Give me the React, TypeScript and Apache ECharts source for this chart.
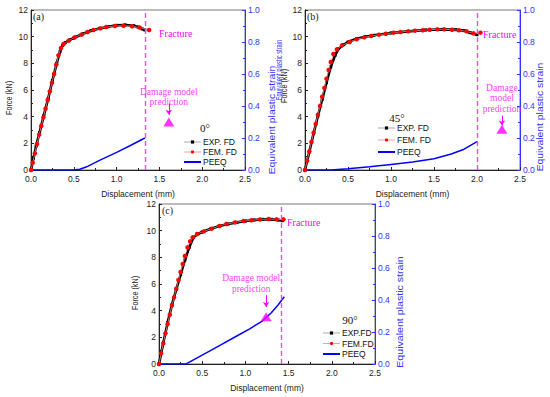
import React, { useEffect, useRef } from "react";
import * as echarts from "echarts";

// ---------- data ----------
const X_MIN = 0, X_MAX = 2.5, X_STEP = 0.5;
const F_MIN = 0, F_MAX = 12, F_STEP = 2;
const E_MIN = 0, E_MAX = 1, E_STEP = 0.2;

const EXP_A = [[0,0],[0.03,0.9],[0.06,1.8],[0.1,2.8],[0.15,4.1],[0.2,5.35],[0.25,6.7],[0.3,8.0],[0.34,8.9],[0.37,9.35],[0.4,9.55],[0.45,9.75],[0.5,9.9],[0.6,10.2],[0.7,10.45],[0.8,10.62],[0.9,10.75],[1.0,10.85],[1.1,10.88],[1.2,10.82],[1.25,10.72],[1.3,10.58],[1.33,10.5]];
const FEM_A = [[0,0],[0.02,0.55],[0.045,1.25],[0.07,1.95],[0.095,2.65],[0.12,3.3],[0.145,3.95],[0.17,4.6],[0.195,5.25],[0.22,5.9],[0.245,6.55],[0.27,7.2],[0.295,7.9],[0.32,8.6],[0.35,9.15],[0.38,9.45],[0.44,9.7],[0.51,9.95],[0.59,10.15],[0.66,10.35],[0.73,10.5],[0.81,10.62],[0.88,10.72],[0.98,10.8],[1.08,10.82],[1.18,10.78],[1.27,10.68],[1.38,10.5]];
const PEEQ_A = [[0,0],[0.5,0],[0.57,0.005],[0.65,0.02],[0.8,0.06],[1.0,0.11],[1.15,0.15],[1.33,0.2]];

const EXP_B = [[0,0],[0.05,1.35],[0.1,2.75],[0.15,4.05],[0.2,5.3],[0.25,6.55],[0.3,7.75],[0.35,8.6],[0.39,9.1],[0.45,9.4],[0.5,9.6],[0.6,9.85],[0.7,10.0],[0.8,10.1],[1.0,10.28],[1.2,10.4],[1.4,10.5],[1.6,10.55],[1.75,10.52],[1.85,10.45],[1.92,10.3],[2.0,10.15]];
const FEM_B = [[0,0],[0.025,0.7],[0.05,1.4],[0.075,2.1],[0.1,2.8],[0.125,3.45],[0.15,4.15],[0.175,4.8],[0.2,5.5],[0.225,6.15],[0.25,6.85],[0.275,7.5],[0.3,8.1],[0.33,8.7],[0.37,9.05],[0.43,9.35],[0.52,9.6],[0.6,9.8],[0.69,9.95],[0.77,10.05],[0.86,10.15],[0.94,10.22],[1.03,10.3],[1.11,10.35],[1.2,10.4],[1.28,10.45],[1.37,10.48],[1.45,10.52],[1.54,10.55],[1.62,10.55],[1.71,10.52],[1.79,10.48],[1.88,10.4],[1.96,10.25],[2.04,10.3]];
const PEEQ_B = [[0,0],[0.3,0],[0.5,0.008],[0.75,0.02],[1.0,0.035],[1.25,0.05],[1.5,0.07],[1.7,0.1],[1.85,0.13],[2.0,0.177]];

const EXP_C = [[0,0],[0.05,1.6],[0.1,3.1],[0.15,4.45],[0.2,5.6],[0.25,6.7],[0.3,7.8],[0.35,8.75],[0.4,9.5],[0.45,9.75],[0.5,9.9],[0.6,10.15],[0.7,10.35],[0.8,10.5],[0.9,10.62],[1.0,10.72],[1.1,10.8],[1.2,10.85],[1.3,10.85],[1.38,10.8],[1.43,10.75]];
const FEM_C = [[0,0],[0.025,0.8],[0.05,1.55],[0.075,2.3],[0.1,3.0],[0.125,3.7],[0.15,4.4],[0.175,5.0],[0.2,5.65],[0.225,6.3],[0.25,6.9],[0.275,7.5],[0.3,8.1],[0.33,8.75],[0.36,9.2],[0.39,9.5],[0.44,9.75],[0.52,9.95],[0.61,10.15],[0.7,10.35],[0.78,10.5],[0.88,10.62],[0.98,10.72],[1.07,10.78],[1.17,10.84],[1.27,10.87],[1.36,10.85],[1.44,10.85]];
const PEEQ_C = [[0,0],[0.3,0],[0.32,0.002],[0.5,0.055],[0.7,0.115],[0.9,0.175],[1.05,0.22],[1.2,0.27],[1.3,0.32],[1.38,0.37],[1.45,0.42]];

const FRACTURE_X = [1.33, 2.0, 1.42];
const DAMAGE_PT = [[1.61, 0.3], [2.29, 0.254], [1.24, 0.296]];
const ARROW_E = [[0.415, 0.345], [0.34, 0.278], [0.43, 0.356]];
const DAMAGE_TEXT = ["Damage model\nprediction", "Damage\nmodel\nprediction", "Damage model\nprediction"];
const PANEL_TAGS = ["(a)", "(b)", "(c)"];
const ANGLES = ["0°", "45°", "90°"];
const LEGEND_NAMES = [
  ["EXP. FD", "FEM. FD", "PEEQ"],
  ["EXP. FD", "FEM. FD", "PEEQ"],
  ["EXP.FD", "FEM.FD", "PEEQ"],
];
const X_NAME = "Displacement (mm)";
const YL_NAME = "Force (kN)";
const YR_NAME = "Equivalent plastic strain";

// ---------- layout ----------
const SANS = "Liberation Sans";
const SERIF = "Liberation Serif";
const MAGENTA = "#ff00ff";
const BLUE = "#3333ff";

const PANELS = [
  { grid: { left: 31, top: 10, width: 214, height: 160 }, legend: { left: 183, top: 137, gap: 0, lh: 10 }, labelDist: 10, labelOffset: [0, 0],
    tag: [33, 16], angle: [205, 128], fracture: [159, 33], yl: [9, 98], yr: [272, 120], yrScale: 1.15 },
  { grid: { left: 305, top: 10, width: 215, height: 160 }, legend: { left: 377, top: 123, gap: 2, lh: 10 }, labelDist: 11, labelOffset: [0, 0],
    tag: [307, 16], angle: [397, 118], fracture: [483, 34], yl: [284, 86], yr: [540, 117], yrScale: 1.15 },
  { grid: { left: 159, top: 204, width: 216, height: 160 }, legend: { left: 322, top: 328, gap: 0.5, lh: 10 }, labelDist: 18, labelOffset: [-15, 0],
    tag: [162, 210], angle: [350, 320], fracture: [287, 222], yl: [135, 293], yr: [400, 312], yrScale: 1.18 },
];
// secondary (cropped) strain title seen left of panel (b)
const EXTRA_YR = { x: 279, y: 70, scale: 0.68 };

const DATA = [
  { exp: EXP_A, fem: FEM_A, peeq: PEEQ_A },
  { exp: EXP_B, fem: FEM_B, peeq: PEEQ_B },
  { exp: EXP_C, fem: FEM_C, peeq: PEEQ_C },
];

function buildOption() {
  const grid: any[] = [];
  const xAxis: any[] = [];
  const yAxis: any[] = [];
  const series: any[] = [];
  const legend: any[] = [];
  const graphic: any[] = [];

  PANELS.forEach((p, i) => {
    grid.push({ ...p.grid, show: true, borderColor: "#777", borderWidth: 1, backgroundColor: "transparent" });
    xAxis.push({
      type: "value", gridIndex: i, min: X_MIN, max: X_MAX, interval: X_STEP,
      axisLine: { show: true, onZero: false, lineStyle: { color: "#222", width: 1 } },
      axisTick: { inside: true, length: 3, lineStyle: { color: "#222" } },
      minorTick: { show: true, splitNumber: 2, length: 2, lineStyle: { color: "#222" } },
      splitLine: { show: false },
      axisLabel: { fontSize: 8.5, fontFamily: SANS, color: "#222", margin: 4, formatter: (v: number) => v.toFixed(1) },
      name: X_NAME, nameLocation: "middle", nameGap: 19,
      nameTextStyle: { fontSize: 8.5, fontFamily: SANS, color: "#222" },
    });
    yAxis.push({
      type: "value", gridIndex: i, min: F_MIN, max: F_MAX, interval: F_STEP, position: "left",
      axisLine: { show: true, onZero: false, lineStyle: { color: "#222", width: 1 } },
      axisTick: { inside: true, length: 3, lineStyle: { color: "#222" } },
      minorTick: { show: true, splitNumber: 2, length: 2, lineStyle: { color: "#222" } },
      splitLine: { show: false },
      axisLabel: { fontSize: 8.5, fontFamily: SANS, color: "#222", margin: 3 },
    });
    yAxis.push({
      type: "value", gridIndex: i, min: E_MIN, max: E_MAX, interval: E_STEP, position: "right",
      axisLine: { show: true, onZero: false, lineStyle: { color: BLUE, width: 1 } },
      axisTick: { inside: true, length: 3, lineStyle: { color: BLUE } },
      minorTick: { show: true, splitNumber: 2, length: 2, lineStyle: { color: BLUE } },
      splitLine: { show: false },
      axisLabel: { fontSize: 8.5, fontFamily: SANS, color: BLUE, margin: 3, formatter: (v: number) => v.toFixed(1) },
    });

    const names = LEGEND_NAMES[i];
    const d = DATA[i];
    series.push({
      type: "line", name: names[0], xAxisIndex: i, yAxisIndex: 2 * i, data: d.exp,
      symbol: "rect", symbolSize: 3, showSymbol: true, itemStyle: { color: "#000" },
      lineStyle: { color: "#000", width: 2.6 }, z: 2,
      markLine: {
        silent: true, symbol: "none", label: { show: false },
        lineStyle: { color: "#ff44ff", type: [5, 3], width: 1.4 },
        data: [{ xAxis: FRACTURE_X[i] }],
      },
    });
    series.push({
      type: "line", name: names[1], xAxisIndex: i, yAxisIndex: 2 * i, data: d.fem,
      symbol: "circle", symbolSize: 4.5, showSymbol: true, itemStyle: { color: "#ff0000" },
      lineStyle: { color: "#ff9090", width: 0.8 }, z: 3,
    });
    series.push({
      type: "line", name: names[2], xAxisIndex: i, yAxisIndex: 2 * i + 1, data: d.peeq,
      symbol: "none", lineStyle: { color: "#0000ff", width: 1.5 }, itemStyle: { color: "#0000ff" }, z: 2,
    });
    series.push({
      type: "scatter", name: "damage" + i, xAxisIndex: i, yAxisIndex: 2 * i + 1, data: [DAMAGE_PT[i]],
      symbol: "triangle", symbolSize: [11, 9], itemStyle: { color: MAGENTA }, z: 4,
      label: {
        show: true, position: "top", distance: p.labelDist, offset: p.labelOffset,
        formatter: DAMAGE_TEXT[i], color: MAGENTA, fontFamily: SERIF, fontSize: 9.5, lineHeight: 10.5, align: "center",
      },
      markLine: {
        silent: true, symbol: ["none", "arrow"], symbolSize: 5, label: { show: false },
        lineStyle: { color: MAGENTA, type: "solid", width: 1 },
        data: [[{ coord: [DAMAGE_PT[i][0], ARROW_E[i][0]] }, { coord: [DAMAGE_PT[i][0], ARROW_E[i][1]] }]],
      },
    });

    legend.push({
      orient: "vertical", left: p.legend.left, top: p.legend.top, itemWidth: 17, itemHeight: 4,
      itemGap: p.legend.gap, padding: 0, selectedMode: false,
      textStyle: { fontSize: 8.5, fontFamily: SANS, color: "#111", lineHeight: p.legend.lh, padding: [0, 0, 0, -3] },
      data: [
        { name: names[0], lineStyle: { color: "#aaaaaa", width: 1 }, itemStyle: { color: "#000" } },
        { name: names[1], lineStyle: { color: "#ff9a9a", width: 1 }, itemStyle: { color: "#ff0000" } },
        { name: names[2], lineStyle: { color: "#0000ff", width: 2 }, itemStyle: { color: "rgba(0,0,0,0)", borderWidth: 0, opacity: 0 } },
      ],
    });

    graphic.push(
      { type: "text", x: p.tag[0], y: p.tag[1], style: { text: PANEL_TAGS[i], fontFamily: SERIF, fontSize: 10, fill: "#222", textVerticalAlign: "middle" } },
      { type: "text", x: p.angle[0], y: p.angle[1], style: { text: ANGLES[i], fontFamily: SERIF, fontSize: 11, fill: "#111", textAlign: "center", textVerticalAlign: "middle" } },
      { type: "text", x: p.fracture[0], y: p.fracture[1], style: { text: "Fracture", fontFamily: SERIF, fontSize: 10, fill: MAGENTA, textVerticalAlign: "middle" } },
      { type: "text", x: p.yl[0], y: p.yl[1], rotation: Math.PI / 2, scaleX: 0.85, style: { text: YL_NAME, fontFamily: SANS, fontSize: 8.5, fill: "#222", textAlign: "center", textVerticalAlign: "middle" } },
      { type: "text", x: p.yr[0], y: p.yr[1], rotation: Math.PI / 2, scaleX: p.yrScale, style: { text: YR_NAME, fontFamily: SANS, fontSize: 9, fill: BLUE, textAlign: "center", textVerticalAlign: "middle" } },
    );
  });
  graphic.push({ type: "text", x: EXTRA_YR.x, y: EXTRA_YR.y, rotation: Math.PI / 2, scaleX: EXTRA_YR.scale, style: { text: YR_NAME, fontFamily: SANS, fontSize: 8.5, fill: BLUE, textAlign: "center", textVerticalAlign: "middle" } });

  return { animation: false, backgroundColor: "#fff", grid, xAxis, yAxis, series, legend, graphic };
}

export default function App() {
  const ref = useRef<HTMLDivElement>(null);
  useEffect(() => {
    if (!ref.current) return;
    const chart = echarts.init(ref.current, undefined, { renderer: "svg" });
    chart.setOption(buildOption() as any);
    return () => chart.dispose();
  }, []);
  return <div ref={ref} style={{ position: "fixed", left: 0, top: 0, width: 550, height: 397, background: "#fff" }} />;
}
